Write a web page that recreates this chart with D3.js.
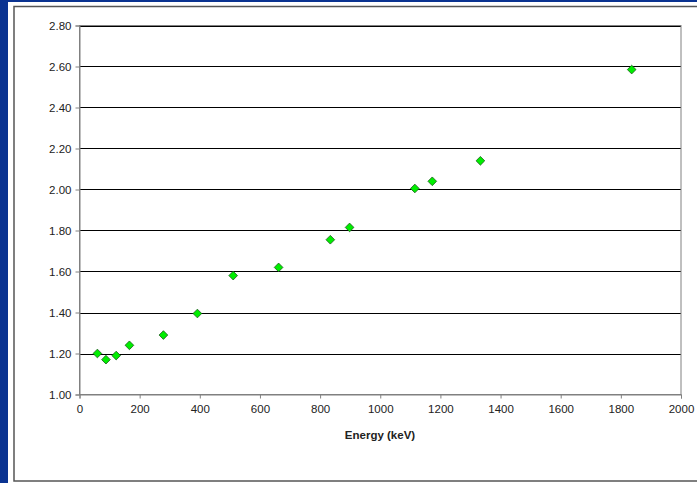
<!DOCTYPE html>
<html><head><meta charset="utf-8">
<script src="https://cdn.jsdelivr.net/npm/d3@7"></script>
<style>html,body{margin:0;padding:0;background:#fff;overflow:hidden}</style>
</head><body>
<svg id="c" width="697" height="483"></svg>
<script>
const energies = [59.5, 88, 122, 166, 279, 392, 511, 662, 834, 898, 1115, 1173, 1333, 1836];
const values   = [1.20, 1.17, 1.19, 1.24, 1.29, 1.395, 1.58, 1.62, 1.755, 1.815, 2.005, 2.04, 2.14, 2.585];
const xTicks = [0,200,400,600,800,1000,1200,1400,1600,1800,2000];
const yTicks = [1.00,1.20,1.40,1.60,1.80,2.00,2.20,2.40,2.60,2.80];
const xTitle = "Energy (keV)";

const svg = d3.select("#c");
svg.append("rect").attr("x",0).attr("y",0).attr("width",697).attr("height",483).attr("fill","#fff");
svg.append("rect").attr("x",0).attr("y",0).attr("width",8).attr("height",483).attr("fill","#0a3391");
svg.append("rect").attr("x",0).attr("y",0).attr("width",697).attr("height",2).attr("fill","#0a3391");
svg.append("rect").attr("x",14).attr("y",6.5).attr("width",700).attr("height",474.5)
  .attr("fill","#fff").attr("stroke","#555").attr("stroke-width",1.5);

const L=79.5, R=681, T=25.5, B=394.5;
const x = d3.scaleLinear().domain([0,2000]).range([L,R]);
const y = d3.scaleLinear().domain([1.0,2.8]).range([B,T]);

svg.append("g").selectAll("line").data(yTicks.slice(1)).join("line")
  .attr("x1",L).attr("x2",R).attr("y1",d=>Math.round(y(d))+0.5).attr("y2",d=>Math.round(y(d))+0.5)
  .attr("stroke","#000").attr("stroke-width",1);
svg.append("rect").attr("x",L).attr("y",T).attr("width",R-L).attr("height",B-T)
  .attr("fill","none").attr("stroke","#808080").attr("stroke-width",1);

const font = "Arial, 'Liberation Sans', sans-serif";
const xAxis = svg.append("g").attr("transform",`translate(0,${B})`)
  .call(d3.axisBottom(x).tickValues(xTicks).tickSize(4).tickPadding(6).tickFormat(d3.format("d")));
const yAxis = svg.append("g").attr("transform",`translate(${L},0)`)
  .call(d3.axisLeft(y).tickValues(yTicks).tickSize(4).tickPadding(4).tickFormat(d3.format(".2f")));
[xAxis,yAxis].forEach(a=>{
  a.select(".domain").attr("stroke","#808080");
  a.selectAll(".tick line").attr("stroke","#808080");
  a.selectAll("text").attr("font-family",font).attr("font-size","11.5px").attr("fill","#222");
});

svg.append("text").attr("x",380).attr("y",439).attr("text-anchor","middle")
  .attr("font-family",font).attr("font-size","11.5px").attr("font-weight","bold").attr("fill","#222")
  .text(xTitle);

const sym = d3.symbol().type(d3.symbolDiamond2).size(48);
svg.append("g").selectAll("path").data(energies.map((e,i)=>[e,values[i]])).join("path")
  .attr("d", sym)
  .attr("transform", d=>`translate(${x(d[0])},${y(d[1])})`)
  .attr("fill","#00ee00").attr("stroke","#1a5a1a").attr("stroke-width",0.8);
</script>
</body></html>
